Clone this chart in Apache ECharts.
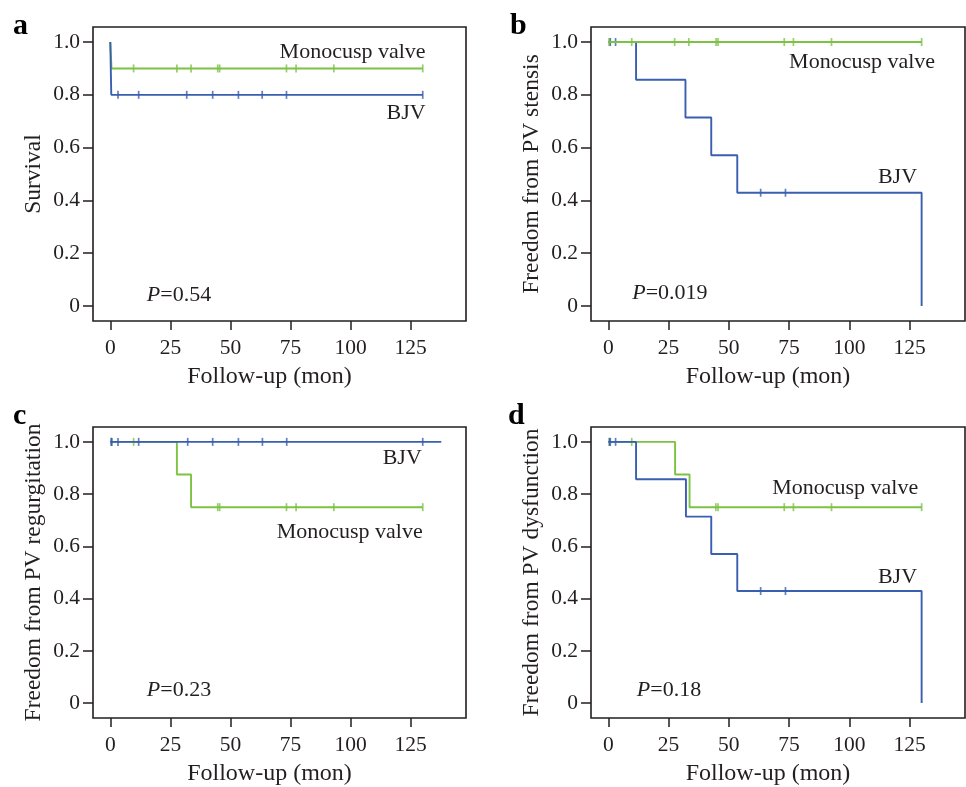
<!DOCTYPE html>
<html><head><meta charset="utf-8">
<script src="https://cdn.jsdelivr.net/npm/echarts@6/dist/echarts.min.js"></script>
<style>html,body{margin:0;padding:0;background:#fff}#c{width:966px;height:787px}</style>
</head><body><div id="c"></div>
<script>
// ---------- data ----------
const xTicks = [0, 25, 50, 75, 100, 125];
const yTicks = [0, 0.2, 0.4, 0.6, 0.8, 1.0];
const panelLetters = ['a', 'b', 'c', 'd'];
const yTitles = ['Survival', 'Freedom from PV stensis', 'Freedom from PV regurgitation', 'Freedom from PV dysfunction'];
const xTitle = 'Follow-up (mon)';
const groupNames = ['BJV', 'Monocusp valve'];
const pValues = ['0.54', '0.019', '0.23', '0.18'];

// Panel a: survival
const aBjvTime = [0, 0.4, 130];
const aBjvSurv = [1, 0.8, 0.8];
const aBjvCens = [3.2, 11.8, 31.8, 42.6, 53.3, 63.2, 73.3, 130];
const aMonoTime = [0, 0.5, 130];
const aMonoSurv = [1, 0.9, 0.9];
const aMonoCens = [9.7, 27.7, 33.6, 44.7, 45.5, 73.3, 77.3, 93.0, 130];

// Panel b: freedom from PV stenosis
const bBjvTime = [0, 11.5, 32.0, 42.7, 53.5, 130];
const bBjvSurv = [1, 0.857, 0.714, 0.571, 0.429, 0];
const bBjvCens = [0.5, 0.8, 3.0, 63.2, 73.5];
const bMonoTime = [0, 130];
const bMonoSurv = [1, 1];
const bMonoCens = [0.4, 9.7, 27.5, 33.4, 44.7, 45.5, 73.0, 76.8, 92.6, 130];

// Panel c: freedom from PV regurgitation
const cBjvTime = [0, 137.7];
const cBjvSurv = [1, 1];
const cBjvCens = [0.4, 0.6, 3.2, 11.8, 32.2, 42.6, 53.3, 63.3, 73.4, 130];
const cMonoTime = [0, 27.7, 33.6, 130];
const cMonoSurv = [1, 0.875, 0.75, 0.75];
const cMonoCens = [0.5, 9.7, 44.7, 45.5, 73.3, 77.3, 93.0, 130];

// Panel d: freedom from PV dysfunction
const dBjvTime = [0, 11.5, 32.2, 42.7, 53.5, 130];
const dBjvSurv = [1, 0.857, 0.714, 0.571, 0.429, 0];
const dBjvCens = [0.5, 0.8, 3.0, 63.2, 73.5];
const dMonoTime = [0, 27.7, 33.7, 130];
const dMonoSurv = [1, 0.875, 0.75, 0.75];
const dMonoCens = [0.4, 9.7, 44.6, 45.5, 73.0, 76.8, 92.6, 130];

// label anchor positions in data units [x, y]
const bjvLabelPos = [[131.2, 0.73], [128.1, 0.488], [129.6, 0.938], [128.1, 0.482]];
const monoLabelPos = [[131.2, 0.963], [135.6, 0.925], [130.0, 0.653], [128.6, 0.821]];
const pLabelPos = [[15.2, 0.039], [9.9, 0.047], [15.2, 0.051], [11.8, 0.051]];

// ---------- build ----------
const BLUE = '#3a5eb0', GREEN = '#7cc243', INK = '#231f20';
const FONT = '"Liberation Serif","Times New Roman",serif';
const panels = [
  {bt: aBjvTime, bs: aBjvSurv, bc: aBjvCens, mt: aMonoTime, ms: aMonoSurv, mc: aMonoCens, blueTop: true},
  {bt: bBjvTime, bs: bBjvSurv, bc: bBjvCens, mt: bMonoTime, ms: bMonoSurv, mc: bMonoCens, blueTop: false},
  {bt: cBjvTime, bs: cBjvSurv, bc: cBjvCens, mt: cMonoTime, ms: cMonoSurv, mc: cMonoCens, blueTop: true},
  {bt: dBjvTime, bs: dBjvSurv, bc: dBjvCens, mt: dMonoTime, ms: dMonoSurv, mc: dMonoCens, blueTop: true}
];
const gridBoxes = [
  {left: 93, top: 27, width: 373, height: 294},
  {left: 591, top: 27, width: 374, height: 294},
  {left: 93, top: 427, width: 373, height: 293},
  {left: 591, top: 427, width: 374, height: 293}
];
function survAt(times, survs, t) {
  let s = survs[0];
  for (let i = 0; i < times.length; i++) if (times[i] <= t) s = survs[i];
  return s;
}
const grid = [], xAxis = [], yAxis = [], series = [];
panels.forEach((p, i) => {
  grid.push(Object.assign({show: true, borderColor: INK, borderWidth: 1.6, backgroundColor: 'transparent'}, gridBoxes[i]));
  xAxis.push({
    type: 'value', gridIndex: i, min: -7.2, max: 148,
    axisLine: {show: false, onZero: false},
    splitLine: {show: false},
    axisTick: {show: true, length: 9, lineStyle: {color: INK, width: 1.5}, customValues: xTicks},
    axisLabel: {color: INK, fontFamily: FONT, fontSize: 21.5, margin: 16, customValues: xTicks},
    name: xTitle, nameLocation: 'middle', nameGap: 44,
    nameTextStyle: {color: INK, fontFamily: FONT, fontSize: 24, padding: [0, 20, 0, 0]}
  });
  yAxis.push({
    type: 'value', gridIndex: i, min: -0.057, max: 1.057,
    axisLine: {show: false, onZero: false},
    splitLine: {show: false},
    axisTick: {show: true, length: 10, lineStyle: {color: INK, width: 1.5}, customValues: yTicks},
    axisLabel: {color: INK, fontFamily: FONT, fontSize: 21.5, margin: 13, customValues: yTicks,
      formatter: v => (Math.abs(v) < 1e-9 ? '0' : v.toFixed(1))},
    name: yTitles[i], nameLocation: 'middle', nameGap: 47,
    nameTextStyle: {color: INK, fontFamily: FONT, fontSize: 23.5}
  });
  const curves = [
    {name: groupNames[1], t: p.mt, s: p.ms, c: p.mc, color: GREEN},
    {name: groupNames[0], t: p.bt, s: p.bs, c: p.bc, color: BLUE}
  ];
  if (!p.blueTop) curves.reverse();
  curves.forEach((cv, k) => {
    const z = 2 + k * 2;
    series.push({
      type: 'line', name: cv.name, xAxisIndex: i, yAxisIndex: i, step: 'end',
      showSymbol: false, symbol: 'none', silent: true, z: z,
      lineStyle: {color: cv.color, width: 1.9},
      data: cv.t.map((t, j) => [t, cv.s[j]])
    });
    series.push({
      type: 'scatter', name: cv.name + ' censored', xAxisIndex: i, yAxisIndex: i,
      symbol: 'rect', symbolSize: [1.7, 8], silent: true, z: z + 1,
      itemStyle: {color: cv.color},
      data: cv.c.map(t => [t, survAt(cv.t, cv.s, t)])
    });
  });
});
const chart = echarts.init(document.getElementById('c'), null, {renderer: 'canvas'});
chart.setOption({animation: false, backgroundColor: '#fff', grid, xAxis, yAxis, series});

// text annotations, placed through the axes
const graphic = [];
const letterPos = [[13, 28], [510, 28], [13, 418], [508, 418]];
panelLetters.forEach((l, i) => {
  graphic.push({type: 'text', left: letterPos[i][0], top: letterPos[i][1] - 17,
    style: {text: l, fontFamily: FONT, fontWeight: 'bold', fontSize: 30, fill: '#000'}});
});
for (let i = 0; i < 4; i++) {
  const b = chart.convertToPixel({gridIndex: i}, bjvLabelPos[i]);
  const m = chart.convertToPixel({gridIndex: i}, monoLabelPos[i]);
  const pp = chart.convertToPixel({gridIndex: i}, pLabelPos[i]);
  graphic.push({type: 'text', x: b[0], y: b[1], style: {text: groupNames[0], fontFamily: FONT, fontSize: 22, fill: INK, align: 'right', verticalAlign: 'middle'}});
  graphic.push({type: 'text', x: m[0], y: m[1], style: {text: groupNames[1], fontFamily: FONT, fontSize: 22, fill: INK, align: 'right', verticalAlign: 'middle'}});
  graphic.push({type: 'text', x: pp[0], y: pp[1], style: {
    text: '{i|P}=' + pValues[i], fontFamily: FONT, fontSize: 22, fill: INK, align: 'left', verticalAlign: 'middle',
    rich: {i: {fontFamily: FONT, fontSize: 22, fontStyle: 'italic', fill: INK}}}});
}
chart.setOption({graphic});
</script></body></html>
